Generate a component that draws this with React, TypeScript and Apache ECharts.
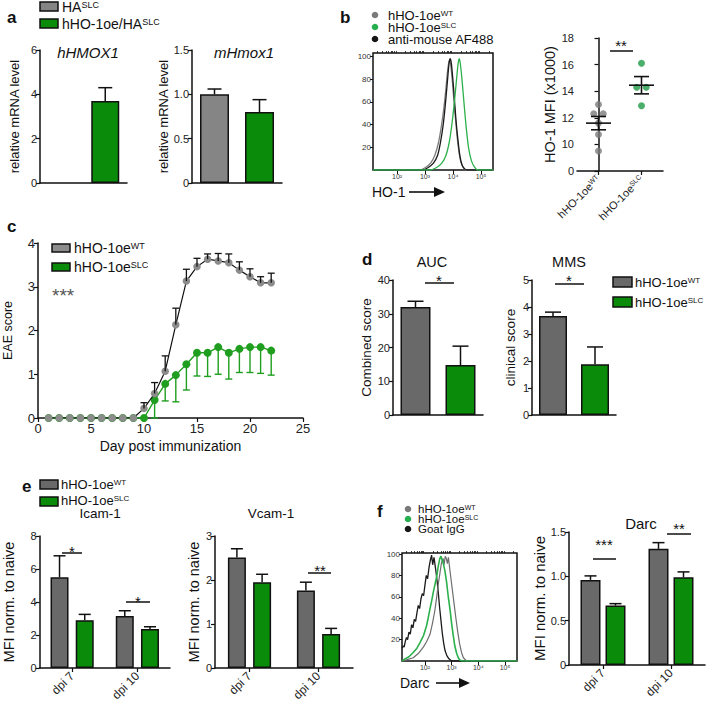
import React, { useEffect, useRef } from 'react';
import * as echarts from 'echarts';

const FONT = "'Liberation Sans', Arial, Helvetica, sans-serif";
const INK = '#111111';
const GREY_A = '#858585';
const GREY = '#696969';
const GREEN = '#0a8c0a';
const GREEN_LINE = '#1f9e1f';
const GREEN_HIST = '#2cb04c';
const GREEN_DOT = '#1e9a45';
const GREY_DOT = '#7a7a7a';

// ---------- Panel a ----------
const aGroups = ['HA^SLC', 'hHO-1oe/HA^SLC'];
const aHMOX1Mean: (number | null)[] = [null, 3.7];
const aHMOX1Sem: (number | null)[] = [null, 0.6];
const aHmox1Mean = [1.0, 0.8];
const aHmox1Sem = [0.06, 0.14];

// ---------- Panel b ----------
const bLegend = ['hHO-1oe^WT', 'hHO-1oe^SLC', 'anti-mouse AF488'];
const bHistXTicks = [2, 3, 4, 5];
const bHistXLabels = ['10²', '10³', '10⁴', '10⁵'];
const histYTicks = [20, 40, 60, 80, 100];
// [log10 fluorescence, % of max]
const bHistWT = [[1.14, 0], [2.8, 0], [3.0, 2], [3.2, 6], [3.35, 13], [3.48, 24], [3.58, 38], [3.66, 52], [3.74, 70], [3.8, 86], [3.85, 95], [3.88, 97], [3.92, 92], [3.97, 80], [4.03, 62], [4.1, 42], [4.18, 22], [4.27, 8], [4.37, 2], [4.45, 0], [5.43, 0]];
const bHistIso = [[1.14, 0], [2.9, 0], [3.1, 2], [3.3, 6], [3.45, 13], [3.55, 24], [3.65, 40], [3.72, 56], [3.8, 78], [3.86, 94], [3.9, 98], [3.94, 94], [3.98, 84], [4.04, 66], [4.1, 46], [4.17, 28], [4.25, 12], [4.33, 4], [4.42, 1], [4.5, 0], [5.43, 0]];
const bHistSLC = [[1.14, 0], [3.15, 0], [3.4, 2], [3.6, 6], [3.75, 13], [3.87, 25], [3.97, 42], [4.05, 60], [4.12, 78], [4.18, 93], [4.22, 98], [4.26, 94], [4.32, 80], [4.39, 60], [4.47, 38], [4.56, 19], [4.66, 8], [4.76, 3], [4.88, 0], [5.43, 0]];
const bScatterCats = ['hHO-1oe^WT', 'hHO-1oe^SLC'];
const bWT = [13.0, 12.3, 12.3, 11.6, 10.75, 9.5];
const bWTJitter = [0, -0.11, 0.11, 0, 0, 0];
const bSLC = [16.1, 14.3, 14.3, 12.9];
const bSLCJitter = [0, -0.11, 0.11, 0];
const bMean = [11.6, 14.45];
const bSem = [0.5, 0.65];

// ---------- Panel c ----------
const cLegend = ['hHO-1oe^WT', 'hHO-1oe^SLC'];
const cDays = [1, 2, 3, 4, 5, 6, 7, 8, 9, 10, 11, 12, 13, 14, 15, 16, 17, 18, 19, 20, 21, 22];
const cWT = [0, 0, 0, 0, 0, 0, 0, 0, 0, 0.22, 0.56, 1.07, 2.13, 3.13, 3.46, 3.63, 3.59, 3.55, 3.38, 3.23, 3.09, 3.09];
const cWTSem = [0, 0, 0, 0, 0, 0, 0, 0, 0, 0.13, 0.25, 0.35, 0.38, 0.27, 0.19, 0.12, 0.17, 0.2, 0.19, 0.18, 0.14, 0.22];
const cSLC = [0, 0, 0, 0, 0, 0, 0, 0, 0, 0, 0.41, 0.78, 0.98, 1.23, 1.49, 1.49, 1.62, 1.49, 1.58, 1.62, 1.62, 1.54];
const cSLCSem = [0, 0, 0, 0, 0, 0, 0, 0, 0, 0, 0.41, 0.39, 0.61, 0.59, 0.53, 0.54, 0.62, 0.6, 0.54, 0.58, 0.6, 0.56];

// ---------- Panel d ----------
const dGroups = ['hHO-1oe^WT', 'hHO-1oe^SLC'];
const dAUC = [32, 14.8];
const dAUCSem = [1.7, 5.6];
const dMMS = [3.67, 1.88];
const dMMSSem = [0.14, 0.64];

// ---------- Panel e ----------
const eCats = ['dpi 7', 'dpi 10'];
const eIcamWT = [5.5, 3.15];
const eIcamWTSem = [1.3, 0.32];
const eIcamSLC = [2.9, 2.36];
const eIcamSLCSem = [0.35, 0.14];
const eVcamWT = [2.51, 1.76];
const eVcamWTSem = [0.2, 0.19];
const eVcamSLC = [1.95, 0.77];
const eVcamSLCSem = [0.18, 0.13];

// ---------- Panel f ----------
const fLegend = ['hHO-1oe^WT', 'hHO-1oe^SLC', 'Goat IgG'];
const fHistXTicks = [2, 3, 4, 5];
const fHistXLabels = ['10²', '10³', '10⁴', '10⁵'];
const fHistIgG = [[1.14, 12], [1.18, 14], [1.22, 13], [1.27, 19], [1.31, 22], [1.35, 20], [1.4, 27], [1.45, 25], [1.5, 34], [1.55, 31], [1.6, 39], [1.65, 37], [1.7, 45], [1.75, 52], [1.8, 49], [1.85, 58], [1.9, 63], [1.95, 61], [2.0, 71], [2.05, 80], [2.1, 77], [2.15, 87], [2.2, 94], [2.25, 99], [2.29, 90], [2.34, 97], [2.4, 86], [2.45, 76], [2.5, 64], [2.55, 50], [2.6, 38], [2.65, 26], [2.7, 17], [2.75, 10], [2.82, 5], [2.9, 2], [3.0, 0], [5.45, 0]];
const fHistSLC = [[1.14, 0], [1.25, 2], [1.4, 4], [1.56, 8], [1.7, 12], [1.81, 17], [1.95, 24], [2.06, 33], [2.12, 40], [2.19, 49], [2.25, 56], [2.31, 64], [2.37, 71], [2.44, 79], [2.5, 89], [2.56, 96], [2.6, 98], [2.65, 94], [2.69, 91], [2.75, 84], [2.81, 74], [2.87, 61], [2.94, 48], [3.0, 35], [3.06, 24], [3.12, 14], [3.19, 7], [3.25, 3], [3.31, 1], [3.4, 0], [5.45, 0]];
const fHistWT = [[1.14, 0], [1.3, 1], [1.56, 3], [1.75, 7], [1.94, 13], [2.06, 18], [2.19, 25], [2.28, 35], [2.37, 47], [2.44, 60], [2.5, 72], [2.56, 82], [2.62, 92], [2.68, 96], [2.72, 90], [2.76, 98], [2.8, 96], [2.84, 91], [2.88, 97], [2.93, 86], [3.0, 72], [3.08, 56], [3.16, 40], [3.23, 27], [3.3, 16], [3.37, 8], [3.44, 3], [3.56, 0], [5.45, 0]];
const fCats = ['dpi 7', 'dpi 10'];
const fDarcWT = [0.96, 1.31];
const fDarcWTSem = [0.045, 0.07];
const fDarcSLC = [0.67, 0.99];
const fDarcSLCSem = [0.022, 0.06];

// ---------- helpers ----------
const sup = (s: string) => {
  const [b, p] = s.split('^');
  return p ? `{n|${b}}{s|${p}}` : `{n|${b}}`;
};
const richG = (size: number) => ({
  n: { fontSize: size, lineHeight: Math.round(size * 0.9), fontFamily: FONT, fill: INK, color: INK },
  s: { fontSize: Math.round(size * 0.62), lineHeight: Math.round(size * 0.62), fontFamily: FONT, fill: INK, color: INK, verticalAlign: 'top' },
});
const richA = (size: number) => ({
  n: { fontSize: size, fontFamily: FONT, color: '#222' },
  s: { fontSize: Math.round(size * 0.62), fontFamily: FONT, color: '#222', verticalAlign: 'top' },
});

const minorLog = (lo: number, hi: number) => {
  const out: number[] = [];
  for (let d = 1; d <= 5; d++) for (let k = 2; k <= 9; k++) {
    const v = d + Math.log10(k);
    if (v > lo && v < hi) out.push(v);
  }
  return out;
};

const AX_LINE = { show: true, lineStyle: { color: INK, width: 1.5 } };

function valY(gridIndex: number, min: number, max: number, interval: number, name: string, nameGap: number, nameSize = 13, fontSize = 11, fmt?: (v: number) => string): any {
  const o: any = {
    type: 'value', gridIndex, min, max, interval,
    name, nameLocation: 'middle', nameGap, nameRotate: 90,
    nameTextStyle: { fontSize: nameSize, color: INK, fontFamily: FONT },
    axisLine: AX_LINE,
    axisTick: { show: true, length: 4, lineStyle: { color: INK, width: 1.2 } },
    axisLabel: { fontSize, color: '#222', margin: 3, fontFamily: FONT },
    splitLine: { show: false },
  };
  if (fmt) o.axisLabel.formatter = fmt;
  return o;
}

function catX(gridIndex: number, data: string[], labels: boolean, rotate = 45, fontSize = 12): any {
  return {
    type: 'category', gridIndex, data, boundaryGap: true,
    axisLine: AX_LINE,
    axisTick: { show: labels, alignWithLabel: true, length: 4, lineStyle: { color: INK, width: 1.2 } },
    axisLabel: {
      show: labels, rotate, margin: 6, fontSize, color: '#222', fontFamily: FONT,
      formatter: (v: string) => sup(v), rich: richA(fontSize),
    },
    splitLine: { show: false },
  };
}

function histX(gridIndex: number, min: number, max: number, ticks: number[], labels: string[]): any[] {
  return [
    {
      type: 'value', gridIndex, min, max,
      axisLine: { show: false },
      axisTick: { show: true, length: 4, customValues: ticks, lineStyle: { color: INK, width: 1 } },
      axisLabel: {
        show: true, customValues: ticks, fontSize: 7, color: '#333', margin: 3, fontFamily: FONT,
        formatter: (v: number) => labels[ticks.indexOf(Math.round(v))] ?? '',
      },
      splitLine: { show: false },
    },
    {
      type: 'value', gridIndex, min, max,
      axisLine: { show: false },
      axisTick: { show: true, length: 2, customValues: minorLog(min, max), lineStyle: { color: INK, width: 0.8 } },
      axisLabel: { show: false },
      splitLine: { show: false },
    },
  ];
}

function histY(gridIndex: number, max: number): any {
  return {
    type: 'value', gridIndex, min: 0, max,
    axisLine: { show: false },
    axisTick: { show: true, length: 3, customValues: histYTicks, lineStyle: { color: INK, width: 1 } },
    axisLabel: { show: true, customValues: histYTicks, fontSize: 8, color: '#333', margin: 2, fontFamily: FONT },
    splitLine: { show: false },
  };
}

function errSeries(xAxisIndex: number, yAxisIndex: number, xs: number[], means: (number | null)[], sems: (number | null)[], offset: number, cap: number, color: string, down = false, lw = 1.5): any {
  const data = xs.map((x, i) => [x, means[i], sems[i]]).filter((d) => d[1] != null && d[2] != null && (d[2] as number) > 0);
  return {
    type: 'custom', xAxisIndex, yAxisIndex, data, z: 4, silent: true,
    encode: { x: 0, y: 1 },
    renderItem: (_p: any, api: any) => {
      const x = api.value(0), m = api.value(1), s = api.value(2);
      const p = api.coord([x, m]);
      const q = api.coord([x, down ? m - s : m + s]);
      const cx = p[0] + offset;
      const style = { stroke: color, lineWidth: lw };
      return {
        type: 'group',
        children: [
          { type: 'line', shape: { x1: cx, y1: p[1], x2: cx, y2: q[1] }, style },
          { type: 'line', shape: { x1: cx - cap, y1: q[1], x2: cx + cap, y2: q[1] }, style },
        ],
      };
    },
  };
}

function barSeries(xAxisIndex: number, yAxisIndex: number, values: (number | null)[], colors: string[] | string, barWidth: number, barGap?: string): any {
  return {
    type: 'bar', xAxisIndex, yAxisIndex, barWidth, barGap,
    data: values.map((v, i) => ({
      value: v == null ? '-' : v,
      itemStyle: { color: Array.isArray(colors) ? colors[i] : colors, borderColor: INK, borderWidth: 1.5 },
    })),
    z: 2,
  };
}

function histLine(xAxisIndex: number, yAxisIndex: number, data: number[][], color: string, width: number, smooth: number | boolean): any {
  return {
    type: 'line', xAxisIndex, yAxisIndex, data, showSymbol: false, symbol: 'none', smooth,
    lineStyle: { color, width }, z: 3,
  };
}

// graphic helpers
const gText = (x: number, y: number, text: string, size: number, opts: any = {}) => ({
  type: 'text', x, y, silent: true,
  style: { text, fontSize: size, fontFamily: FONT, fill: INK, align: 'left', verticalAlign: 'middle', ...opts },
});
const gLegText = (x: number, y: number, label: string, size = 13) => ({
  type: 'text', x, y, silent: true,
  style: { text: sup(label), rich: richG(size), fontSize: size, fontFamily: FONT, fill: INK, align: 'left', verticalAlign: 'middle' },
});
const gRect = (x: number, y: number, w: number, h: number, fill: string) => ({
  type: 'rect', silent: true, shape: { x, y, width: w, height: h }, style: { fill, stroke: INK, lineWidth: 1.5 },
});
const gDot = (cx: number, cy: number, fill: string) => ({
  type: 'circle', silent: true, shape: { cx, cy, r: 3.3 }, style: { fill },
});
const gLine = (x1: number, y1: number, x2: number, y2: number, lw = 1.5) => ({
  type: 'line', silent: true, shape: { x1, y1, x2, y2 }, style: { stroke: INK, lineWidth: lw },
});
const gArrow = (x1: number, x2: number, y: number) => [
  gLine(x1, y, x2 - 9, y, 1.6),
  { type: 'polygon', silent: true, shape: { points: [[x2 - 11, y - 5], [x2, y], [x2 - 11, y + 5]] }, style: { fill: INK } },
];
const gStar = (cx: number, cy: number, text: string, size = 15) => gText(cx, cy + size * 0.27, text, size, { align: 'center' });

const E_W = 18, E_GAP = 0.4, E_OFF = (E_W * (1 + E_GAP)) / 2;
const F_W = 20, F_GAP = 0.25, F_OFF = (F_W * (1 + F_GAP)) / 2;

export default function App() {
  const ref = useRef<HTMLDivElement>(null);
  useEffect(() => {
    if (!ref.current) return;
    const chart = echarts.init(ref.current, undefined, { renderer: 'svg' });

    const grids = [
      { left: 40, top: 50, width: 87, height: 133 },   // 0 a-left
      { left: 192, top: 50, width: 90, height: 133 },  // 1 a-right
      { left: 373, top: 53, width: 120, height: 117, show: true, borderColor: INK, borderWidth: 1.5 }, // 2 b hist
      { left: 577, top: 38, width: 86, height: 133 },  // 3 b scatter
      { left: 38, top: 243, width: 265, height: 175 }, // 4 c
      { left: 393, top: 280, width: 90, height: 135 }, // 5 d AUC
      { left: 532, top: 280, width: 84, height: 135 }, // 6 d MMS
      { left: 39, top: 536, width: 131, height: 132 }, // 7 e Icam
      { left: 215, top: 536, width: 138, height: 132 },// 8 e Vcam
      { left: 402, top: 553, width: 115, height: 108, show: true, borderColor: INK, borderWidth: 1.5 }, // 9 f hist
      { left: 569, top: 532, width: 136, height: 133 },// 10 f Darc
    ];

    const xAxes: any[] = [
      catX(0, aGroups, false),                       // 0
      catX(1, aGroups, false),                       // 1
      ...histX(2, 1.14, 5.43, bHistXTicks, bHistXLabels), // 2,3
      catX(3, bScatterCats, true, 45, 11),           // 4
      { type: 'value', gridIndex: 3, min: -0.5, max: 1.5, show: false }, // 5
      {                                              // 6
        type: 'value', gridIndex: 4, min: 0, max: 25, interval: 5,
        name: 'Day post immunization', nameLocation: 'middle', nameGap: 21,
        nameTextStyle: { fontSize: 14, color: INK, fontFamily: FONT },
        axisLine: AX_LINE,
        axisTick: { show: true, length: 4, lineStyle: { color: INK, width: 1.2 } },
        axisLabel: { fontSize: 13, color: '#222', margin: 4, fontFamily: FONT },
        splitLine: { show: false },
      },
      catX(5, dGroups, false),                       // 7
      catX(6, dGroups, false),                       // 8
      catX(7, eCats, true),                          // 9
      catX(8, eCats, true),                          // 10
      ...histX(9, 1.14, 5.45, fHistXTicks, fHistXLabels), // 11,12
      catX(10, fCats, true),                         // 13
    ];

    const oneDec = (v: number) => (v === 0 ? '0' : v.toFixed(1));
    const yAxes: any[] = [
      valY(0, 0, 6, 2, 'relative mRNA level', 19, 13),
      valY(1, 0, 1.5, 0.5, 'relative mRNA level', 14, 13, 11, oneDec),
      histY(2, 103),
      valY(3, 8, 18, 2, 'HO-1 MFI (x1000)', 18, 14.5, 11, (v: number) => (v === 8 ? '0' : String(v))),
      valY(4, 0, 4, 1, 'EAE score', 24, 12.5, 13),
      valY(5, 0, 40, 10, 'Combined score', 17, 13.5),
      valY(6, 0, 5, 1, 'clinical score', 15, 13.5),
      valY(7, 0, 8, 2, 'MFI norm. to naive', 23.5, 14.5),
      valY(8, 0, 3, 1, 'MFI norm. to naive', 9, 14.5),
      histY(9, 101),
      valY(10, 0, 1.5, 0.5, 'MFI norm. to naive', 19, 15, 11, oneDec),
    ];

    const idx2 = [0, 1];
    const series: any[] = [
      // a
      barSeries(0, 0, aHMOX1Mean, [GREY_A, GREEN], 28),
      errSeries(0, 0, idx2, aHMOX1Mean, aHMOX1Sem, 0, 7, INK),
      barSeries(1, 1, aHmox1Mean, [GREY_A, GREEN], 29),
      errSeries(1, 1, idx2, aHmox1Mean, aHmox1Sem, 0, 7, INK),
      // b histogram
      histLine(2, 2, bHistWT, '#7d7d7d', 1.3, 0.3),
      histLine(2, 2, bHistIso, '#1a1a1a', 1.3, 0.3),
      histLine(2, 2, bHistSLC, GREEN_HIST, 1.3, 0.3),
      // b scatter
      {
        type: 'scatter', xAxisIndex: 5, yAxisIndex: 3, symbolSize: 7,
        data: bWT.map((v, i) => [0 + bWTJitter[i], v]), itemStyle: { color: GREY_DOT }, z: 2,
      },
      {
        type: 'scatter', xAxisIndex: 5, yAxisIndex: 3, symbolSize: 7,
        data: bSLC.map((v, i) => [1 + bSLCJitter[i], v]), itemStyle: { color: GREEN_DOT }, z: 2,
      },
      {
        type: 'custom', xAxisIndex: 5, yAxisIndex: 3, z: 5, silent: true,
        data: bMean.map((m, i) => [i, m, bSem[i]]), encode: { x: 0, y: 1 },
        renderItem: (_p: any, api: any) => {
          const x = api.value(0), m = api.value(1), s = api.value(2);
          const pm = api.coord([x, m]), ph = api.coord([x, m + s]), pl = api.coord([x, m - s]);
          const st = { stroke: INK, lineWidth: 1.6 };
          return {
            type: 'group', children: [
              { type: 'line', shape: { x1: pm[0] - 12.5, y1: pm[1], x2: pm[0] + 12.5, y2: pm[1] }, style: st },
              { type: 'line', shape: { x1: pm[0], y1: ph[1], x2: pm[0], y2: pl[1] }, style: st },
              { type: 'line', shape: { x1: pm[0] - 7.5, y1: ph[1], x2: pm[0] + 7.5, y2: ph[1] }, style: st },
              { type: 'line', shape: { x1: pm[0] - 7.5, y1: pl[1], x2: pm[0] + 7.5, y2: pl[1] }, style: st },
            ],
          };
        },
      },
      // c
      {
        type: 'line', xAxisIndex: 6, yAxisIndex: 4, data: cDays.map((d, i) => [d, cSLC[i]]),
        symbol: 'circle', symbolSize: 8, lineStyle: { color: GREEN_LINE, width: 1.4 }, itemStyle: { color: GREEN_LINE }, z: 2,
      },
      errSeries(6, 4, cDays, cSLC, cSLCSem, 0, 3.5, GREEN_LINE, true, 1.4),
      {
        type: 'line', xAxisIndex: 6, yAxisIndex: 4, data: cDays.map((d, i) => [d, cWT[i]]),
        symbol: 'circle', symbolSize: 7.5, lineStyle: { color: INK, width: 1.2 }, itemStyle: { color: '#8c8c8c' }, z: 3,
      },
      errSeries(6, 4, cDays, cWT, cWTSem, 0, 3.5, INK, false, 1.3),
      // d
      barSeries(7, 5, dAUC, [GREY, GREEN], 30),
      errSeries(7, 5, idx2, dAUC, dAUCSem, 0, 8, INK),
      barSeries(8, 6, dMMS, [GREY, GREEN], 28),
      errSeries(8, 6, idx2, dMMS, dMMSSem, 0, 8, INK),
      // e Icam
      barSeries(9, 7, eIcamWT, GREY, E_W, `${E_GAP * 100}%`),
      barSeries(9, 7, eIcamSLC, GREEN, E_W, `${E_GAP * 100}%`),
      errSeries(9, 7, idx2, eIcamWT, eIcamWTSem, -E_OFF, 6, INK),
      errSeries(9, 7, idx2, eIcamSLC, eIcamSLCSem, E_OFF, 6, INK),
      // e Vcam
      barSeries(10, 8, eVcamWT, GREY, E_W, `${E_GAP * 100}%`),
      barSeries(10, 8, eVcamSLC, GREEN, E_W, `${E_GAP * 100}%`),
      errSeries(10, 8, idx2, eVcamWT, eVcamWTSem, -E_OFF, 6, INK),
      errSeries(10, 8, idx2, eVcamSLC, eVcamSLCSem, E_OFF, 6, INK),
      // f hist
      histLine(11, 9, fHistIgG, '#1a1a1a', 1.3, false),
      histLine(11, 9, fHistWT, '#6e6e6e', 1.2, false),
      histLine(11, 9, fHistSLC, GREEN_HIST, 1.6, false),
      // f Darc
      barSeries(13, 10, fDarcWT, GREY, F_W, `${F_GAP * 100}%`),
      barSeries(13, 10, fDarcSLC, GREEN, F_W, `${F_GAP * 100}%`),
      errSeries(13, 10, idx2, fDarcWT, fDarcWTSem, -F_OFF, 6, INK),
      errSeries(13, 10, idx2, fDarcSLC, fDarcSLCSem, F_OFF, 6, INK),
    ];

    const graphic: any[] = [
      // panel letters
      gText(7, 17, 'a', 17, { fontWeight: 'bold' }),
      gText(340, 17, 'b', 17, { fontWeight: 'bold' }),
      gText(7, 226, 'c', 17, { fontWeight: 'bold' }),
      gText(362, 259, 'd', 17, { fontWeight: 'bold' }),
      gText(22, 486, 'e', 17, { fontWeight: 'bold' }),
      gText(377, 511, 'f', 17, { fontWeight: 'bold' }),
      // a legend
      gRect(40, 2, 18, 9, GREY_A), gLegText(62, 7, aGroups[0], 14),
      gRect(40, 19, 18, 9, GREEN), gLegText(62, 24, aGroups[1], 14),
      // a titles
      gText(88, 52, 'hHMOX1', 15, { align: 'center', fontStyle: 'italic' }),
      gText(244, 52, 'mHmox1', 15, { align: 'center', fontStyle: 'italic' }),
      // b legend
      gDot(375, 15, GREY_DOT), gLegText(388, 15, bLegend[0]),
      gDot(375, 27, '#27ae4f'), gLegText(388, 27, bLegend[1]),
      gDot(375, 39, '#151515'), gLegText(388, 39, bLegend[2]),
      gText(372, 192, 'HO-1', 14),
      ...gArrow(409, 445, 192),
      gLine(610, 51, 633, 51), gStar(621, 41, '**'),
      // c legend
      gRect(52, 244, 18, 8, '#8c8c8c'), gLegText(74, 248, cLegend[0], 14),
      gRect(52, 263, 18, 8, GREEN), gLegText(74, 267, cLegend[1], 14),
      gText(52, 295, '***', 19, { fill: '#555' }),
      // d titles, sig, legend
      gText(432, 262, 'AUC', 14.5, { align: 'center' }),
      gText(569, 262, 'MMS', 14.5, { align: 'center' }),
      gLine(425, 283, 454, 283), gStar(439, 276, '*'),
      gLine(555, 284, 584, 284), gStar(569, 276, '*'),
      gRect(613, 277, 19, 10, GREY), gLegText(635, 282, dGroups[0], 13),
      gRect(613, 297, 19, 10, GREEN), gLegText(635, 302, dGroups[1], 13),
      // e legend, titles, sig
      gRect(40, 480, 18, 9, GREY), gLegText(61, 484, cLegend[0]),
      gRect(40, 497, 18, 9, GREEN), gLegText(61, 500, cLegend[1]),
      gText(100, 513, 'Icam-1', 13.5, { align: 'center' }),
      gText(271, 513, 'Vcam-1', 13.5, { align: 'center' }),
      gLine(62, 553, 82, 553), gStar(72, 547, '*'),
      gLine(126, 602, 150, 602), gStar(138, 597, '*'),
      gLine(308, 573, 331, 573), gStar(320, 566, '**'),
      // f legend, hist label, title, sig
      gDot(408, 509, GREY_DOT), gLegText(418, 509, fLegend[0], 11.5),
      gDot(408, 519, '#27ae4f'), gLegText(418, 519, fLegend[1], 11.5),
      gDot(408, 529, '#151515'), gLegText(418, 529, fLegend[2], 11.5),
      gText(400, 683, 'Darc', 14),
      ...gArrow(436, 470, 683),
      gText(641, 523, 'Darc', 15, { align: 'center' }),
      gLine(593, 559, 616, 559), gStar(604, 540, '***'),
      gLine(667, 534, 691, 534), gStar(679, 524, '**'),
    ];

    chart.setOption({
      animation: false,
      backgroundColor: '#ffffff',
      textStyle: { fontFamily: FONT },
      grid: grids.map((g) => ({ containLabel: false, show: false, ...g })),
      xAxis: xAxes,
      yAxis: yAxes,
      series,
      graphic: { elements: graphic },
    });
    return () => chart.dispose();
  }, []);

  return <div ref={ref} style={{ position: 'absolute', left: 0, top: 0, width: 708, height: 707 }} />;
}
